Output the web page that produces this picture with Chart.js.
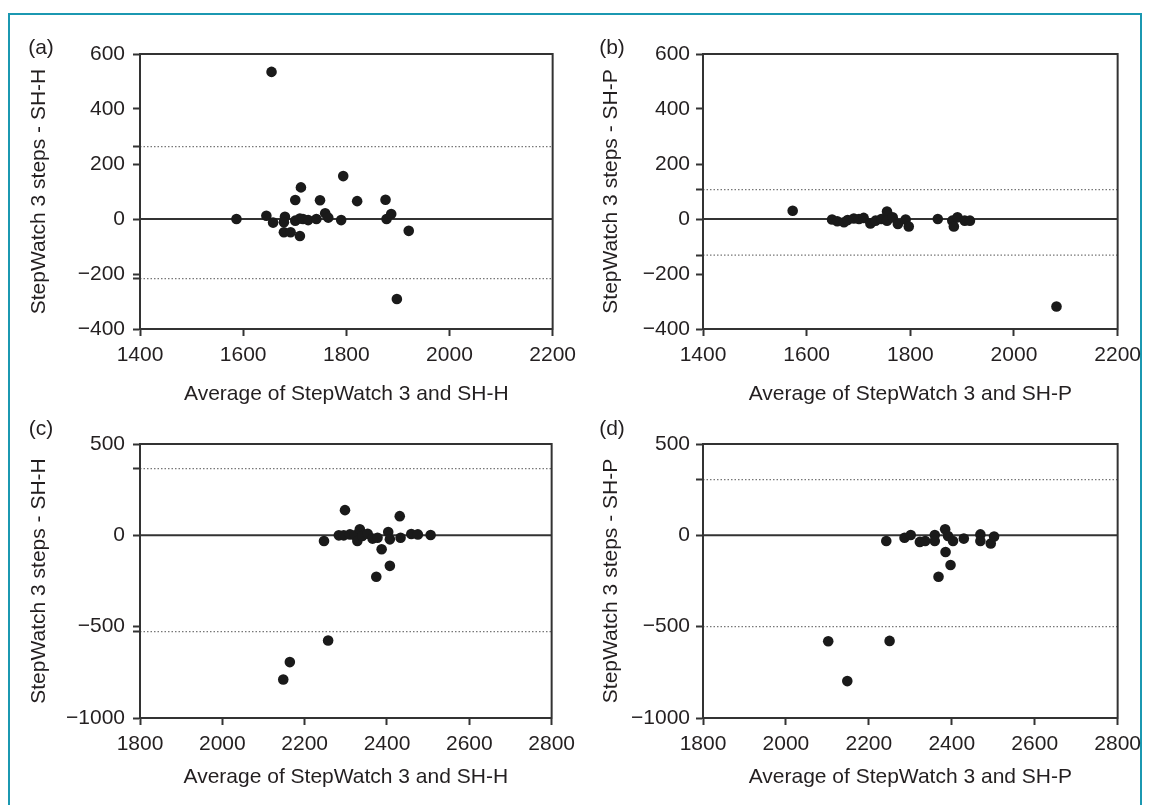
<!DOCTYPE html>
<html>
<head>
<meta charset="utf-8">
<script src="https://cdn.jsdelivr.net/npm/chart.js@4"></script>
<style>
  body { margin: 0; background: #fff; width: 1150px; height: 805px; position: relative; overflow: hidden; font-family: "Liberation Sans", Arial, sans-serif; }
  .frame { position: absolute; left: 8px; top: 13px; width: 1130px; height: 830px; border: 2px solid #1b98b1; }
  canvas { position: absolute; }
  .tag { position: absolute; font-size: 21px; color: #231f20; transform: translate(-50%, -50%); }
</style>
</head>
<body>
<div class="frame"></div>
<canvas id="pa" width="583" height="420" style="left:0;top:0"></canvas>
<canvas id="pb" width="585" height="420" style="left:563px;top:0"></canvas>
<canvas id="pc" width="582" height="405" style="left:0;top:400px"></canvas>
<canvas id="pd" width="585" height="405" style="left:563px;top:400px"></canvas>
<div class="tag" style="left:41px;top:47px">(a)</div>
<div class="tag" style="left:612px;top:47px">(b)</div>
<div class="tag" style="left:41px;top:428px">(c)</div>
<div class="tag" style="left:612px;top:428px">(d)</div>
<script>
// tick labels
const xTicksTop = [1400, 1600, 1800, 2000, 2200];
const yTicksTop = [-400, -200, 0, 200, 400, 600];
const xTicksBottom = [1800, 2000, 2200, 2400, 2600, 2800];
const yTicksBottom = [-1000, -500, 0, 500];

// (a) StepWatch 3 vs SH-H
const xA = [1655, 1794, 1712, 1701, 1749, 1821, 1876, 1587, 1645, 1658, 1681, 1679, 1679, 1692,
  1710, 1701, 1710, 1716, 1726, 1742, 1759, 1765, 1790, 1878, 1887, 1921, 1898];
const yA = [535, 156, 115, 69, 68, 65, 70, 0, 12, -13, 8, -12, -48, -48,
  -62, -6, 2, 0, -4, 0, 21, 5, -4, 0, 18, -43, -291];
const limitsA = [263, -217];

// (b) StepWatch 3 vs SH-P
const xB = [1573, 2082, 1853, 1649, 1659, 1672, 1679, 1691, 1701, 1710, 1723, 1733, 1744, 1755,
  1755, 1766, 1776, 1791, 1797, 1881, 1884, 1891, 1905, 1915];
const yB = [30, -318, 0, -2, -8, -12, -4, 2, 0, 4, -16, -6, 0, 27,
  -6, 6, -18, -2, -27, -6, -27, 6, -6, -6];
const limitsB = [107, -131];

// (c) StepWatch 3 vs SH-H
const xC = [2298, 2431, 2247, 2283, 2295, 2310, 2322, 2334, 2328, 2340, 2353, 2365, 2377, 2387,
  2403, 2407, 2433, 2459, 2475, 2506, 2407, 2374, 2257, 2164, 2148];
const yC = [138, 105, -31, 0, 0, 5, 0, 33, -31, -4, 9, -18, -13, -76,
  18, -22, -13, 7, 5, 2, -167, -227, -576, -694, -789];
const limitsC = [365, -527];

// (d) StepWatch 3 vs SH-P
const xD = [2242, 2286, 2301, 2323, 2336, 2359, 2359, 2384, 2391, 2403, 2429, 2469, 2469, 2494,
  2502, 2385, 2397, 2368, 2102, 2250, 2148];
const yD = [-31, -13, 2, -36, -31, 2, -31, 33, -4, -31, -18, 5, -31, -45,
  -7, -91, -162, -227, -580, -578, -798];
const limitsD = [305, -500];

const INK = '#231f20';
const AXIS = '#333';
const FONT = { family: '"Liberation Sans", Arial, sans-serif', size: 21, lineHeight: 1.2 };

const boxPlugin = {
  id: 'box',
  afterDatasetsDraw(chart) {
    const { ctx, chartArea: a } = chart;
    ctx.save();
    ctx.strokeStyle = AXIS;
    ctx.lineWidth = 2;
    ctx.strokeRect(a.left, a.top, a.right - a.left, a.bottom - a.top);
    ctx.restore();
  }
};

function minus(v) {
  return v < 0 ? '\u2212' + Math.abs(v) : String(v);
}

function panel(id, p) {
  const xMin = p.xTicks[0];
  const xMax = p.xTicks[p.xTicks.length - 1];
  const hline = y => [{ x: xMin, y }, { x: xMax, y }];

  const datasets = [
    {
      data: p.xs.map((x, i) => ({ x, y: p.ys[i] })),
      backgroundColor: '#1a1a1a',
      borderWidth: 0,
      pointRadius: 5.3,
      pointHoverRadius: 5.3,
    },
    { data: hline(0), showLine: true, borderColor: AXIS, borderWidth: 2, pointRadius: 0 },
  ];
  p.limits.forEach(v => {
    datasets.push({
      data: hline(v), showLine: true, borderColor: '#777', borderWidth: 1.2,
      borderDash: [1.5, 2], pointRadius: 0,
    });
  });

  // extra tick marks at the limit lines, without labels
  const yMarks = p.yTicks.concat(p.limits.filter(v => !p.yTicks.includes(v))).sort((a, b) => a - b);

  new Chart(document.getElementById(id), {
    type: 'scatter',
    data: { datasets },
    options: {
      responsive: false,
      animation: false,
      events: [],
      layout: { padding: p.pad },
      plugins: { legend: { display: false }, tooltip: { enabled: false } },
      scales: {
        x: {
          type: 'linear',
          min: xMin,
          max: xMax,
          afterBuildTicks: s => { s.ticks = p.xTicks.map(v => ({ value: v })); },
          afterFit: s => { s.height = 80; },
          ticks: { color: INK, font: FONT, padding: 7, autoSkip: false, maxRotation: 0, callback: v => String(v) },
          grid: { drawOnChartArea: false, tickLength: 7, tickWidth: 2, tickColor: AXIS },
          border: { color: AXIS, width: 2 },
          title: { display: true, text: p.xTitle, color: INK, font: FONT, padding: { top: 0, bottom: p.xTitlePad } },
        },
        y: {
          type: 'linear',
          min: p.yTicks[0],
          max: p.yTicks[p.yTicks.length - 1],
          afterBuildTicks: s => { s.ticks = yMarks.map(v => ({ value: v })); },
          afterFit: s => { s.width = 140; },
          ticks: {
            color: INK, font: FONT, padding: p.tickPad, autoSkip: false,
            callback: v => (p.yTicks.includes(v) ? minus(v) : ''),
          },
          grid: { drawOnChartArea: false, tickLength: 7, tickWidth: 2, tickColor: AXIS },
          border: { color: AXIS, width: 2 },
          title: { display: true, text: p.yTitle, color: INK, font: FONT, padding: { top: p.yTitlePad, bottom: 0 } },
        },
      },
    },
    plugins: [boxPlugin],
  });
}

panel('pa', {
  xs: xA, ys: yA, limits: limitsA, xTicks: xTicksTop, yTicks: yTicksTop,
  xTitle: 'Average of StepWatch 3 and SH-H', yTitle: 'StepWatch 3 steps - SH-H',
  pad: { left: 0, top: 54, right: 27, bottom: 11 }, xTitlePad: 2, yTitlePad: 27, tickPad: 8,
});
panel('pb', {
  xs: xB, ys: yB, limits: limitsB, xTicks: xTicksTop, yTicks: yTicksTop,
  xTitle: 'Average of StepWatch 3 and SH-P', yTitle: 'StepWatch 3 steps - SH-P',
  pad: { left: 0, top: 54, right: 25, bottom: 11 }, xTitlePad: 2, yTitlePad: 36, tickPad: 6,
});
panel('pc', {
  xs: xC, ys: yC, limits: limitsC, xTicks: xTicksBottom, yTicks: yTicksBottom,
  xTitle: 'Average of StepWatch 3 and SH-H', yTitle: 'StepWatch 3 steps - SH-H',
  pad: { left: 0, top: 44, right: 28, bottom: 7 }, xTitlePad: 8, yTitlePad: 27, tickPad: 8,
});
panel('pd', {
  xs: xD, ys: yD, limits: limitsD, xTicks: xTicksBottom, yTicks: yTicksBottom,
  xTitle: 'Average of StepWatch 3 and SH-P', yTitle: 'StepWatch 3 steps - SH-P',
  pad: { left: 0, top: 44, right: 25, bottom: 7 }, xTitlePad: 8, yTitlePad: 36, tickPad: 6,
});
</script>
</body>
</html>
